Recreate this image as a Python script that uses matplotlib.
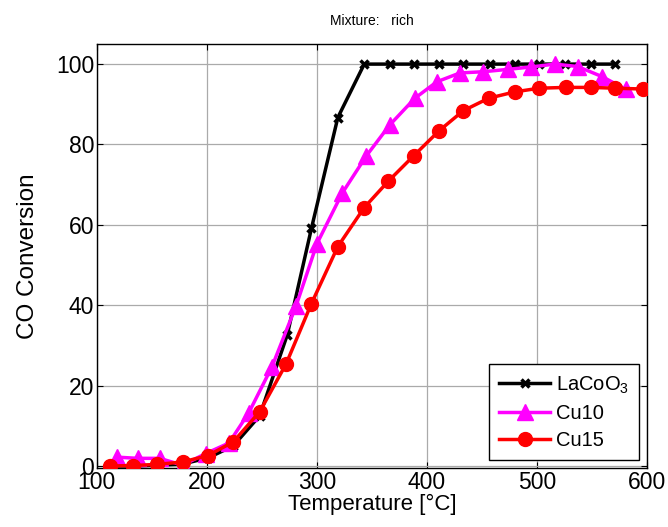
import matplotlib
matplotlib.use("Agg")
import matplotlib.pyplot as plt

plt.rcParams['font.family'] = ['Liberation Sans', 'DejaVu Sans']
plt.rcParams['mathtext.fontset'] = 'custom'
plt.rcParams['mathtext.rm'] = 'Liberation Sans'

# LaCoO3
t_la = [112, 134, 156, 178, 201, 224, 248, 273, 295, 319, 343, 366, 388, 411, 433, 457, 480, 502, 525, 549, 571]
co_la = [0.0, 0.0, 0.2, 0.5, 2.0, 5.0, 12.5, 32.6, 59.1, 86.7, 100, 100, 100, 100, 100, 100, 100, 100, 100, 100, 100]

# Cu10
t_cu10 = [118, 137, 157, 178, 199, 220, 238, 259, 281, 300, 323, 345, 366, 389, 409, 430, 451, 474, 495, 516, 537, 559, 581]
co_cu10 = [2.2, 1.9, 1.9, 0.2, 3.1, 5.7, 13.2, 24.6, 39.8, 55.3, 67.9, 77.2, 84.8, 91.5, 95.6, 97.8, 98.1, 98.7, 99.3, 100, 99.4, 96.9, 93.7]

# Cu15
t_cu15 = [112, 133, 155, 178, 201, 224, 248, 272, 295, 319, 343, 365, 388, 411, 433, 456, 480, 502, 526, 549, 571, 596]
co_cu15 = [0.0, 0.1, 0.4, 1.0, 2.6, 6.0, 13.5, 25.4, 40.4, 54.6, 64.3, 70.9, 77.2, 83.4, 88.4, 91.5, 93.1, 94.0, 94.2, 94.2, 94.0, 93.8]

fig = plt.figure(figsize=(6.68, 5.27), dpi=100)
ax = fig.add_axes([0.145, 0.112, 0.8236, 0.8045])

ax.plot(t_la, co_la, color="black", marker="x", markersize=6, markeredgewidth=2.5,
        linewidth=2.5, label="LaCoO$_3$", zorder=3)
ax.plot(t_cu10, co_cu10, color="#ff00ff", marker="^", markersize=11,
        linewidth=2.5, label="Cu10", zorder=4)
ax.plot(t_cu15, co_cu15, color="red", marker="o", markersize=10,
        linewidth=2.5, label="Cu15", zorder=5)

ax.set_xlim(100, 600)
ax.set_ylim(-0.5, 105)
ax.set_xticks([100, 200, 300, 400, 500, 600])
ax.set_yticks([0, 20, 40, 60, 80, 100])
ax.tick_params(direction="in", top=True, right=True, labelsize=16.5, length=4, pad=2)
ax.grid(True, color="#aaaaaa", linewidth=0.9)
ax.set_axisbelow(True)
for s in ax.spines.values():
    s.set_linewidth(1.0)

ax.set_xlabel("Temperature [°C]", fontsize=16, labelpad=0)
ax.set_ylabel("CO Conversion", fontsize=17.5, labelpad=12)
ax.set_title("Mixture:   rich", fontsize=10, pad=14)

leg = ax.legend(loc="lower right", fontsize=14.5, fancybox=False, framealpha=1,
                edgecolor="black", handlelength=2.5, borderpad=0.5,
                labelspacing=0.4, handletextpad=0.3, borderaxespad=0.4)
leg.get_frame().set_linewidth(1.0)

fig.savefig("out.png", dpi=100)
